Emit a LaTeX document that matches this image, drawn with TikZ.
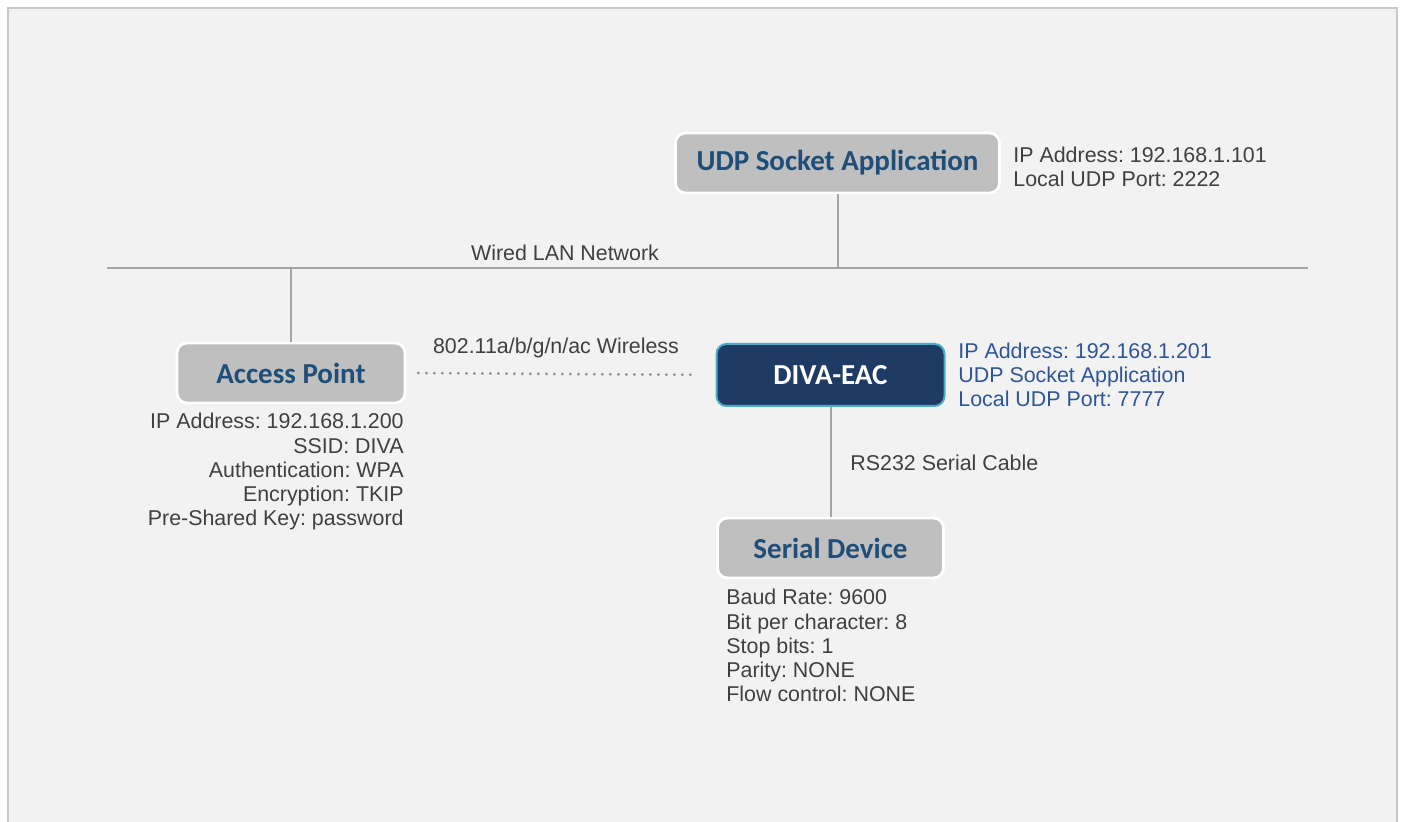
\documentclass[tikz,border=0pt]{standalone}
\usepackage{fontspec}
\setmainfont{Liberation Sans}
\newfontfamily\boxfont{Carlito}
\usetikzlibrary{positioning}
\definecolor{panelgray}{HTML}{F2F2F2}
\definecolor{framegray}{HTML}{C8C8C8}
\definecolor{boxgray}{HTML}{BFBFBF}
\definecolor{linegray}{HTML}{A6A6A6}
\definecolor{dotgray}{HTML}{8C8C8C}
\definecolor{textgray}{HTML}{404040}
\definecolor{titleblue}{HTML}{1F4E79}
\definecolor{infoblue}{HTML}{2F5597}
\definecolor{divanavy}{HTML}{1F3B63}
\definecolor{divaedge}{HTML}{4BACC6}
\frenchspacing

\begin{document}
\begin{tikzpicture}[x=0.5pt, y=-0.5pt]
		\tikzset{unit/.style={rectangle, rounded corners=5pt, fill=boxgray, draw=white, line width=1.4pt, inner sep=0, font=\boxfont\bfseries\fontsize{14.5}{16}\selectfont, text=titleblue, minimum height=30pt}}
		\tikzset{info/.style={inner sep=0, text=textgray, font=\fontsize{10.7}{12.1}\selectfont}}
		\tikzset{wire/.style={draw=linegray, line width=1pt}}
		% background panel
		\useasboundingbox (0,0) rectangle (1405,822);
		\fill[white] (0,0) rectangle (1405,822);
		\draw[draw=framegray, fill=panelgray, line width=1pt] (8,830) -- (8,8) -- (1397,8) -- (1397,830);
		% boxes
		\node[unit, minimum width=162pt] at (837.5,163) (udp) {UDP Socket Application};
		\node[unit, minimum width=114pt] at (291,373) (ap) {Access Point};
		\node[unit, minimum width=114pt, fill=divanavy, draw=divaedge, line width=1pt, text=white, minimum height=31pt] at (830.5,375) (diva) {DIVA-EAC};
		\node[unit, minimum width=113pt] at (830.5,548) (serial) {Serial Device};
		% LAN
		\coordinate (lanL) at (107,268);
		\coordinate (lanR) at (1308,268);
		\draw[wire] (lanL) -- (lanR);
		\draw[wire] (udp) -- (udp |- lanL);
		\draw[wire] (ap) -- (ap |- lanL);
		\draw[wire] (diva) -- (serial);
		\draw[draw=dotgray, line width=1.5pt, line cap=round, dash pattern=on 0pt off 4pt, shorten <=6pt, shorten >=9pt] (ap.east) -- (diva.west);
		% labels
		\node[info] at (565,253) (lan) {Wired LAN Network};
		\node[info] at (556,348) (wlan) {802.11a/b/g/n/ac Wireless};
		\node[info, anchor=west] at (850,463) (rs) {RS232 Serial Cable};
		\node[info, anchor=west, align=left] at (1013,167) (udpinfo) {IP Address: 192.168.1.101\\Local UDP Port: 2222};
		\node[info, anchor=west, align=left, text=infoblue] at (958,375) (divainfo) {IP Address: 192.168.1.201\\UDP Socket Application\\Local UDP Port: 7777};
		\node[info, anchor=north east, align=right] at (404,413) (apinfo) {IP Address: 192.168.1.200\\SSID: DIVA\\Authentication: WPA\\Encryption: TKIP\\Pre-Shared Key: password};
		\node[info, anchor=north west, align=left] at (726,589) (serialinfo) {Baud Rate: 9600\\Bit per character: 8\\Stop bits: 1\\Parity: NONE\\Flow control: NONE};
	\end{tikzpicture}
\end{document}
